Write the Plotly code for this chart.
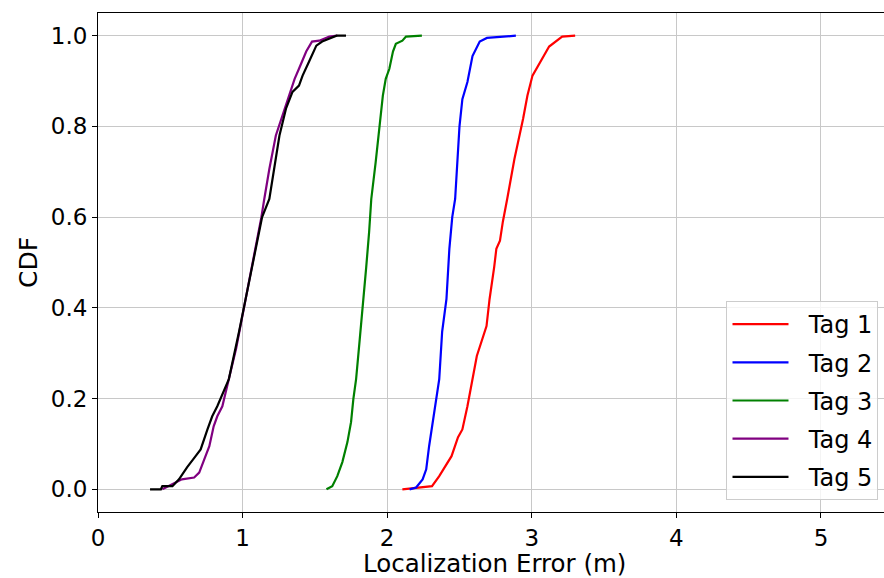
import plotly.graph_objects as go

tag1_x = [2.105, 2.31, 2.36, 2.40, 2.445, 2.49, 2.52, 2.555, 2.59, 2.62, 2.687, 2.708, 2.74, 2.755, 2.78, 2.80, 2.83, 2.88, 2.94, 2.97, 3.005, 3.07, 3.12, 3.21, 3.30]
tag1_y = [0.0, 0.007, 0.029, 0.049, 0.073, 0.115, 0.132, 0.183, 0.243, 0.294, 0.36, 0.419, 0.49, 0.53, 0.548, 0.59, 0.64, 0.728, 0.817, 0.868, 0.912, 0.949, 0.976, 0.998, 1.0]

tag2_x = [2.155, 2.20, 2.245, 2.27, 2.29, 2.315, 2.34, 2.36, 2.38, 2.41, 2.43, 2.45, 2.47, 2.50, 2.52, 2.555, 2.59, 2.64, 2.69, 2.83, 2.89]
tag2_y = [0.0, 0.004, 0.022, 0.044, 0.095, 0.148, 0.199, 0.243, 0.347, 0.42, 0.53, 0.60, 0.64, 0.80, 0.86, 0.898, 0.955, 0.987, 0.995, 0.998, 1.0]

tag3_x = [1.58, 1.62, 1.655, 1.69, 1.725, 1.75, 1.766, 1.785, 1.81, 1.83, 1.855, 1.875, 1.89, 1.92, 1.946, 1.97, 1.99, 2.015, 2.04, 2.06, 2.105, 2.13, 2.24]
tag3_y = [0.0, 0.007, 0.029, 0.06, 0.104, 0.148, 0.199, 0.243, 0.33, 0.397, 0.49, 0.567, 0.64, 0.72, 0.80, 0.868, 0.905, 0.927, 0.965, 0.982, 0.989, 0.998, 1.0]

tag4_x = [0.445, 0.515, 0.58, 0.665, 0.70, 0.735, 0.77, 0.80, 0.825, 0.86, 0.885, 0.905, 0.955, 1.045, 1.09, 1.13, 1.15, 1.185, 1.23, 1.30, 1.36, 1.39, 1.44, 1.48, 1.53, 1.60, 1.655]
tag4_y = [0.0, 0.011, 0.022, 0.026, 0.037, 0.066, 0.095, 0.139, 0.161, 0.183, 0.214, 0.243, 0.31, 0.457, 0.53, 0.60, 0.64, 0.706, 0.78, 0.845, 0.905, 0.927, 0.965, 0.987, 0.989, 0.998, 1.0]

tag5_x = [0.36, 0.435, 0.445, 0.515, 0.56, 0.617, 0.675, 0.71, 0.757, 0.79, 0.825, 0.865, 0.905, 0.975, 1.02, 1.065, 1.10, 1.135, 1.185, 1.21, 1.255, 1.30, 1.345, 1.39, 1.415, 1.46, 1.51, 1.55, 1.60, 1.65, 1.715]
tag5_y = [0.0, 0.0, 0.007, 0.007, 0.022, 0.049, 0.073, 0.088, 0.132, 0.161, 0.183, 0.214, 0.243, 0.347, 0.42, 0.49, 0.55, 0.60, 0.64, 0.69, 0.78, 0.839, 0.876, 0.89, 0.912, 0.943, 0.978, 0.987, 0.993, 1.0, 1.0]

names = ["Tag 1", "Tag 2", "Tag 3", "Tag 4", "Tag 5"]
colors = ["#ff0000", "#0000ff", "#008000", "#800080", "#000000"]
xs = [tag1_x, tag2_x, tag3_x, tag4_x, tag5_x]
ys = [tag1_y, tag2_y, tag3_y, tag4_y, tag5_y]

x_ticks = [0, 1, 2, 3, 4, 5]
y_ticks = [0.0, 0.2, 0.4, 0.6, 0.8, 1.0]

x_title = "Localization Error (m)"
y_title = "CDF"

FONT = "DejaVu Sans"
NBSP = "\u00a0"

fig = go.Figure()
for x, y, n, c in zip(xs, ys, names, colors):
    fig.add_trace(go.Scatter(x=x, y=y, mode="lines", name=NBSP * 2 + n, legendgroup=n,
                             line=dict(color=c, width=2.2)))

fig.update_layout(
    width=884, height=578,
    margin=dict(l=98, r=0, t=13, b=66),
    paper_bgcolor="white", plot_bgcolor="white",
    font=dict(family=FONT, size=23, color="black"),
    showlegend=True,
    legend=dict(x=0.993, y=0.024, xanchor="right", yanchor="bottom",
                bgcolor="rgba(255,255,255,0.8)", bordercolor="#cccccc", borderwidth=1,
                font=dict(family=FONT, size=24, color="black"),
                tracegroupgap=4, itemwidth=56),
)
fig.add_annotation(text=x_title, xref="paper", yref="paper", x=0.505, y=0,
                   xanchor="center", yanchor="middle", yshift=-51, showarrow=False,
                   font=dict(family=FONT, size=24.5, color="black"))
fig.update_xaxes(
    range=[0, 5.436], tickvals=x_ticks, ticktext=[str(v) for v in x_ticks],
    tickfont=dict(family=FONT, size=23),
    showgrid=True, gridcolor="#c8c8c8", gridwidth=1,
    showline=True, linecolor="black", linewidth=1, mirror=True,
    ticks="outside", ticklen=5, tickcolor="black",
    zeroline=False,
)
fig.update_yaxes(
    range=[-0.05, 1.05], tickvals=y_ticks, ticktext=["%.1f" % v for v in y_ticks],
    tickfont=dict(family=FONT, size=23),
    showgrid=True, gridcolor="#c8c8c8", gridwidth=1,
    showline=True, linecolor="black", linewidth=1,
    ticks="outside", ticklen=5, tickcolor="black",
    zeroline=False,
    title=dict(text=y_title, font=dict(family=FONT, size=25), standoff=6),
)

html = fig.to_html(full_html=True, include_plotlyjs=True,
                   config={"displayModeBar": False})
html = html.replace("<body>", '<body style="margin:0;padding:0;overflow:hidden">', 1)
with open("out.html", "w", encoding="utf-8") as f:
    f.write(html)
